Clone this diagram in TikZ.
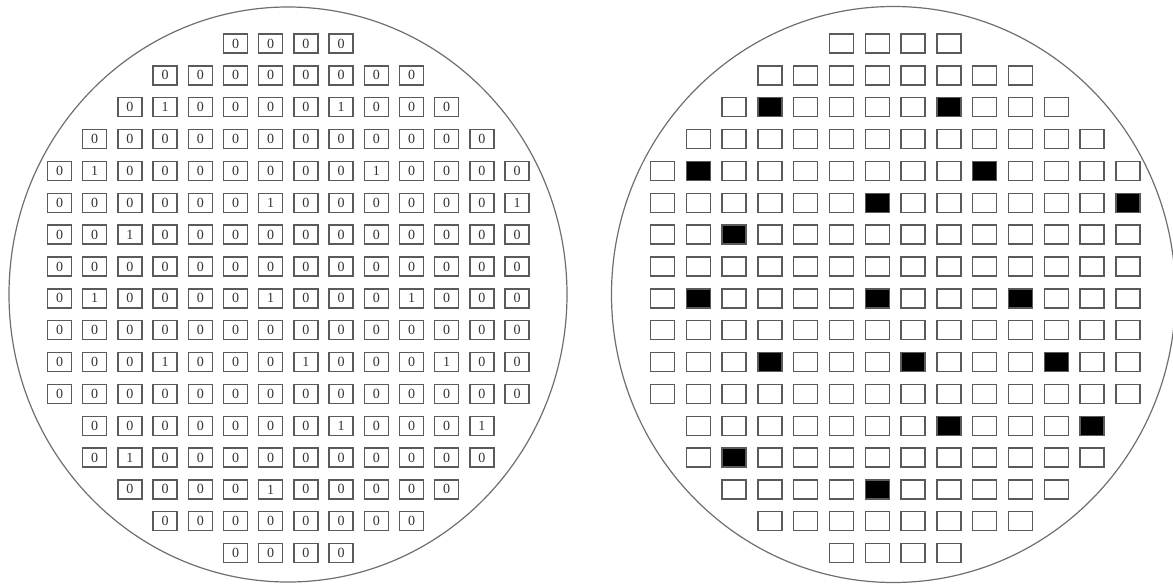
\documentclass[tikz,border=0pt]{standalone}
\usepackage{fontspec}
\setmainfont{Liberation Serif}
\definecolor{cEdge}{HTML}{5A5A5A}
\definecolor{cRim}{HTML}{6E6E6E}
\definecolor{cDigit}{HTML}{333333}

\begin{document}
\begin{tikzpicture}[
  x=1pt,y=-1pt,font=\fontsize{14}{14}\selectfont,
  die/.style={rectangle,draw=cEdge,line width=1.4pt,minimum width=24pt,minimum height=19pt,
              inner sep=0pt,text=cDigit},
  bin0/.style={fill=white},
  bin1/.style={fill=black},
  rim/.style={draw=cRim,line width=1.2pt}
]
\useasboundingbox (0,0) rectangle (1173,586);

%======================= WAFER OUTLINES =======================
\draw[rim] (288,294.5) ellipse [x radius=279,y radius=287.5];
\draw[rim] (893.5,294.5) ellipse [x radius=282,y radius=288];

%======================= DIE MAPS (row / first column / bins) =======================
\foreach \r/\s/\row in {
  1/5/{0,0,0,0},
  2/3/{0,0,0,0,0,0,0,0},
  3/2/{0,1,0,0,0,0,1,0,0,0},
  4/1/{0,0,0,0,0,0,0,0,0,0,0,0},
  5/0/{0,1,0,0,0,0,0,0,0,1,0,0,0,0},
  6/0/{0,0,0,0,0,0,1,0,0,0,0,0,0,1},
  7/0/{0,0,1,0,0,0,0,0,0,0,0,0,0,0},
  8/0/{0,0,0,0,0,0,0,0,0,0,0,0,0,0},
  9/0/{0,1,0,0,0,0,1,0,0,0,1,0,0,0},
  10/0/{0,0,0,0,0,0,0,0,0,0,0,0,0,0},
  11/0/{0,0,0,1,0,0,0,1,0,0,0,1,0,0},
  12/0/{0,0,0,0,0,0,0,0,0,0,0,0,0,0},
  13/1/{0,0,0,0,0,0,0,1,0,0,0,1},
  14/1/{0,1,0,0,0,0,0,0,0,0,0,0},
  15/2/{0,0,0,0,1,0,0,0,0,0},
  16/3/{0,0,0,0,0,0,0,0},
  17/5/{0,0,0,0}}
{
  \foreach \v [count=\c from \s] in \row {
    % left map: bin values as digits
    \node[die] (L\r-\c) at ({59.5+35.2*\c},{43.5+31.85*(\r-1)}) {\v};
    % right map: failing dies filled
    \node[die,bin\v] (R\r-\c) at ({662.5+35.8*\c},{43.5+31.85*(\r-1)}) {};
  }
}

\end{tikzpicture}
\end{document}
